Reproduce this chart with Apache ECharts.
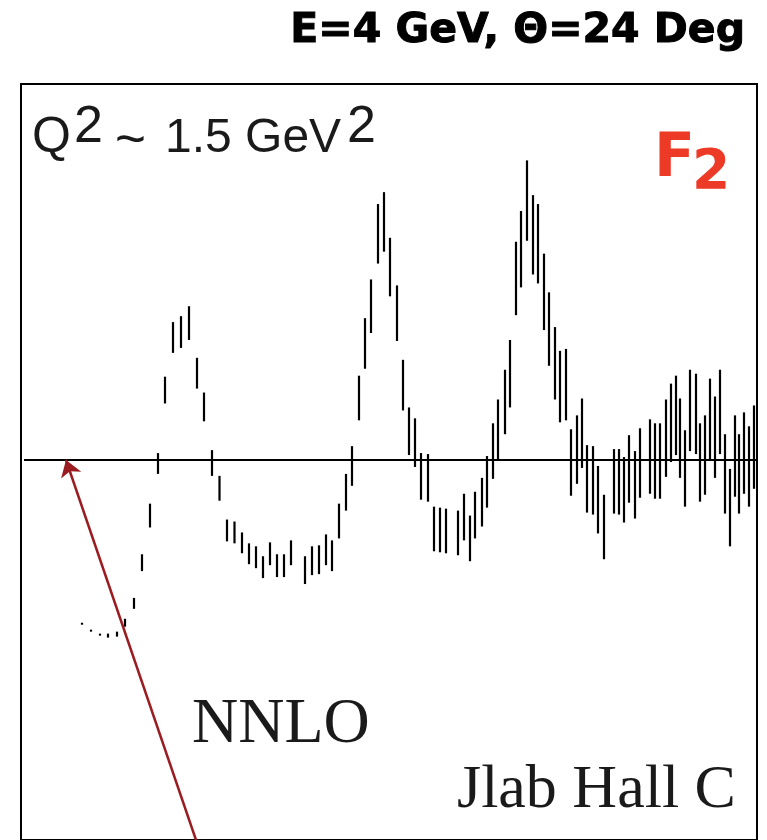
<!DOCTYPE html>
<html>
<head>
<meta charset="utf-8">
<title>F2 Jlab Hall C</title>
<script src="https://cdn.jsdelivr.net/npm/echarts@6/dist/echarts.min.js"></script>
<style>
  html, body { margin: 0; padding: 0; background: #fff; }
  #container { width: 767px; height: 840px; }
</style>
</head>
<body>
<div id="container"></div>
<script>
// data points (x position, lower / upper end of the error bar), arbitrary units, 0 = NNLO
var xPos = [61, 70, 79, 87, 96, 104, 113, 121, 129, 137, 144, 152, 160, 168, 176, 183, 191, 198.5,
    206, 213.5, 221, 228, 235, 242, 249, 256, 263, 270, 284, 291, 298, 305, 311, 318, 325, 331,
    338, 344, 350, 357, 363, 369, 376, 382, 388, 394, 400, 407, 413, 419, 425, 437, 443, 449,
    454, 461, 466, 472, 477, 484, 489, 495, 500, 506, 512, 517, 523, 528, 534, 539, 545, 550,
    556, 561, 566, 572, 577, 583, 593, 598, 603, 608, 614, 619, 629, 634, 639, 645, 650, 655,
    659, 664, 669, 675, 679, 684, 689, 694, 699, 704, 709, 714, 718, 723, 728, 733];
var barHigh = [-164, -171, -175, -175, -173, -160, -139, -95, -44, 7, 84, 139, 145, 155, 103, 68, 10, -16,
    -60, -62, -73, -84, -87, -97, -83, -95, -95, -81, -97, -87, -86, -75, -81, -44, -14, 14,
    85, 143, 182, 258, 270, 224, 176, 101, 53, 42, 7, 6, -47, -48, -49, -51, -34, -56,
    -32, -18, 4, 37, 61, 91, 121, 220, 251, 302, 267, 258, 208, 169, 134, 110, 112, 31,
    45, 62, 15, 14, -6, -35, 11, 11, 3, 25, 9, 32, 41, 37, 37, 61, 77, 85,
    62, 30, 91, 87, 37, 45, 82, 64, 91, 26, -9, 45, 26, 48, 34, 55];
var barLow = [-166, -173, -177, -179, -178, -168, -150, -112, -68, -14, 57, 108, 113, 121, 72, 39, -16, -41,
    -82, -84, -94, -105, -109, -119, -106, -118, -118, -106, -125, -116, -115, -106, -112, -79, -51, -26,
    40, 92, 128, 198, 210, 165, 120, 50, 5, -7, -40, -42, -92, -93, -94, -96, -81, -102,
    -79, -67, -48, -19, -1, 26, 53, 146, 174, 221, 187, 178, 131, 95, 61, 38, 40, -36,
    -24, -8, -53, -55, -74, -100, -54, -55, -63, -43, -59, -38, -34, -39, -39, -17, -2, 5,
    -18, -47, 9, 6, -42, -35, 0, -18, 6, -54, -87, -37, -54, -34, -47, -29];

// NNLO reference line
var nnloX = [3, 735];
var nnloY = [0, 0];

// arrow pointing at the NNLO line
var arrowFrom = [175, -383];
var arrowTo = [45, 0];

var page = {
    init: function () {
        var chart = echarts.init(document.getElementById('container'));
        chart.setOption(this.getOption());
    },
    //误差棒
    renderBar: function (params, api) {
        var x = api.value(0);
        var p1 = api.coord([x, api.value(2)]);
        var p2 = api.coord([x, api.value(1)]);
        return {
            type: 'line',
            shape: { x1: p1[0], y1: p1[1], x2: p2[0], y2: p2[1] },
            style: { stroke: '#000', lineWidth: 2.2 }
        };
    },
    //文字
    label: function (x, y, text, font, fill) {
        return { type: 'text', x: x, y: y, style: { text: text, font: font, fill: fill, verticalAlign: 'top' } };
    },
    getOption: function () {
        var bars = xPos.map(function (x, i) { return [x, barLow[i], barHigh[i]]; });
        var nnlo = nnloX.map(function (x, i) { return [x, nnloY[i]]; });
        var ink = '#1a1a1a', red = '#ec3a26';
        var title = this.label(745, 11, 'E=4 GeV, \u0398=24 Deg', 'bold 41px "DejaVu Sans"', '#000');
        title.style.align = 'right';
        title.style.stroke = '#000';
        title.style.lineWidth = 1;
        return {
            animation: false,
            backgroundColor: '#fff',
            grid: {
                show: true, left: 21, right: 10, top: 84, bottom: -6,
                borderColor: '#000', borderWidth: 2
            },
            xAxis: { type: 'value', min: 0, max: 736, show: false },
            yAxis: { type: 'value', min: -383, max: 379, show: false },
            graphic: [
                title,
                this.label(32, 113, 'Q', '50px "Liberation Sans"', ink),
                this.label(74, 102, '2', '52px "Liberation Sans"', ink),
                this.label(115, 116, '~', '53px "Liberation Sans"', ink),
                this.label(165, 115, '1.5 GeV', '48px "Liberation Sans"', ink),
                this.label(347, 102, '2', '52px "Liberation Sans"', ink),
                this.label(654, 130, 'F', 'bold 60px "DejaVu Sans"', red),
                this.label(692, 146, '2', 'bold 55px "DejaVu Sans"', red),
                this.label(192, 693, 'NNLO', '64px "Liberation Serif"', ink),
                this.label(457, 760, 'Jlab Hall C', '62px "Liberation Serif"', ink)
            ],
            series: [
                {
                    name: 'NNLO',
                    type: 'line',
                    data: nnlo,
                    symbol: 'none',
                    lineStyle: { color: '#000', width: 2 },
                    markLine: {
                        silent: true,
                        symbol: ['none', 'arrow'],
                        symbolSize: 16,
                        label: { show: false },
                        lineStyle: { color: '#9b1c20', width: 2.5, type: 'solid' },
                        data: [[{ coord: arrowFrom }, { coord: arrowTo }]]
                    }
                },
                {
                    name: 'F2',
                    type: 'custom',
                    renderItem: this.renderBar,
                    data: bars,
                    z: 3
                }
            ]
        };
    }
};

page.init();
</script>
</body>
</html>
